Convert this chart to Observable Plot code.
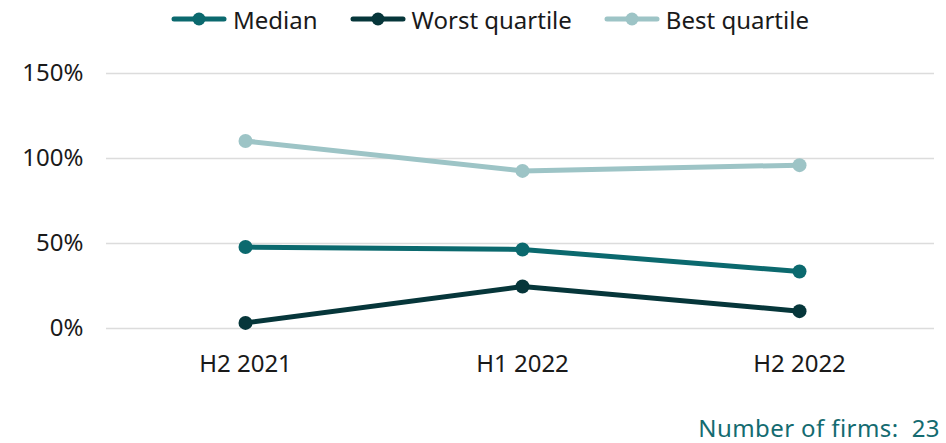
<!DOCTYPE html>
<html>
<head>
<meta charset="utf-8">
<script src="https://cdn.jsdelivr.net/npm/d3@7"></script>
<script src="https://cdn.jsdelivr.net/npm/@observablehq/plot@0.6"></script>
<style>
  body { margin: 0; background: #fff; font-family: "Noto Sans", sans-serif; width: 946px; height: 443px; overflow: hidden; }
  #legend { height: 38px; display: flex; justify-content: center; align-items: center; padding-left: 34px; font-size: 24px; color: #1a1a1a; }
  .item { display: flex; align-items: center; margin: 0 16px; }
  .item svg { margin-right: 6px; }
  #caption { height: 55px; text-align: right; padding-right: 6px; font-size: 24px; letter-spacing: 0.4px; color: #146b70; line-height: 80px; }
</style>
</head>
<body>
<div id="legend"></div>
<div id="chart"></div>
<div id="caption">Number of firms:&nbsp; 23</div>
<script>
const periods = ["H2 2021", "H1 2022", "H2 2022"];
const seriesNames = ["Median", "Worst quartile", "Best quartile"];
const colors = ["#0b696e", "#06363a", "#9dc4c6"];
const median = [47.9, 46.5, 33.5];
const worst = [3.3, 24.7, 10.2];
const best = [110.3, 92.7, 96.1];
const yTicks = [0, 50, 100, 150];

const values = [median, worst, best];
const data = [];
seriesNames.forEach((s, i) => periods.forEach((p, j) => data.push({series: s, period: p, value: values[i][j]})));

// legend
const legend = document.getElementById("legend");
seriesNames.forEach((s, i) => {
  const it = document.createElement("div");
  it.className = "item";
  it.innerHTML = `<svg width="56" height="14"><line x1="3" x2="53" y1="7" y2="7" stroke="${colors[i]}" stroke-width="5" stroke-linecap="round"/><circle cx="28" cy="7" r="6.5" fill="${colors[i]}"/></svg><span>${s}</span>`;
  legend.appendChild(it);
});

const chart = Plot.plot({
  width: 946,
  height: 350,
  marginTop: 35,
  marginBottom: 60,
  marginLeft: 106,
  marginRight: 8,
  style: { fontFamily: "Noto Sans, sans-serif", fontSize: "24px", color: "#1a1a1a", background: "#fff" },
  x: { type: "point", domain: periods, padding: 0.5, label: null },
  y: { domain: [0, 150], label: null },
  color: { domain: seriesNames, range: colors },
  marks: [
    Plot.gridY(yTicks, { stroke: "#dcdcdc", strokeWidth: 1.5, strokeOpacity: 1, insetRight: 4 }),
    Plot.axisY(yTicks, { tickSize: 0, tickPadding: 23, tickFormat: d => d + "%", label: null }),
    Plot.axisX({ tickSize: 0, tickPadding: 26, label: null }),
    Plot.line(data, { x: "period", y: "value", z: "series", stroke: "series", strokeWidth: 5 }),
    Plot.dot(data, { x: "period", y: "value", fill: "series", r: 7 })
  ]
});
document.getElementById("chart").appendChild(chart);
</script>
</body>
</html>
